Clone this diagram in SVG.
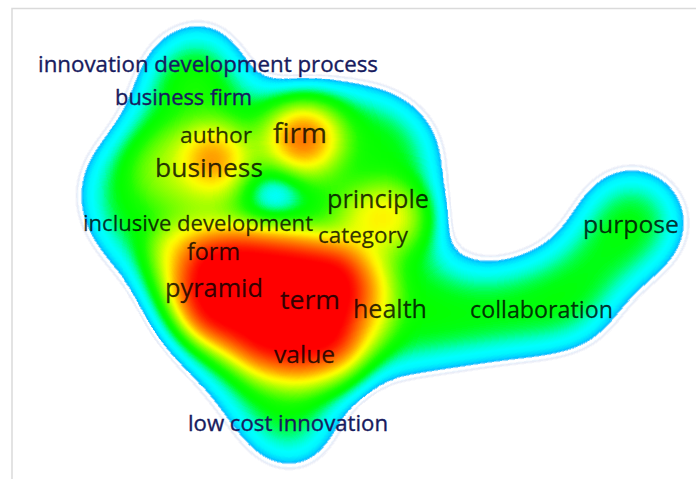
<svg xmlns="http://www.w3.org/2000/svg" width="696" height="479" viewBox="0 0 696 479">
<style>
.lb{mix-blend-mode:lighten}
text{font-family:"Open Sans","Noto Sans","DejaVu Sans",sans-serif;stroke-width:.35}
.n{fill:#171b5e;stroke:#171b5e}
.k{fill:#000;fill-opacity:.8;stroke:#000;stroke-opacity:.5}
</style>
<defs>
<filter id="heat" filterUnits="userSpaceOnUse" x="-120" y="-120" width="936" height="719" color-interpolation-filters="sRGB">
<feGaussianBlur in="SourceGraphic" stdDeviation="28" result="b1"/>
<feColorMatrix in="b1" type="matrix" values="0 0 0 0 0  0 0 0 0 0  0 0 0 0 0  1 0 0 0 0" result="d1"/>
<feGaussianBlur in="SourceGraphic" stdDeviation="14" result="b2"/>
<feColorMatrix in="b2" type="matrix" values="0 0 0 0 0  0 0 0 0 0  0 0 0 0 0  0 1 0 0 0" result="d2"/>
<feColorMatrix in="b2" type="matrix" values="0 0 0 0 0  0 0 0 0 0  0 0 0 0 0  0 0 1 0 0" result="d3"/>
<feComposite in="d1" in2="d2" operator="arithmetic" k2="1" k3="1" result="s"/>
<feComposite in="s" in2="d3" operator="arithmetic" k2="1" k3="-1" result="d"/>
<feColorMatrix in="d" type="matrix" values="0 0 0 1 0  0 0 0 1 0  0 0 0 1 0  0 0 0 0 1" result="gray"/>
<feComponentTransfer in="gray" result="col">
<feFuncR type="table" tableValues="0.8 0.8 0.8 0.8 0.8 0.8 0.8 0.8 0.8 0 0 0 0 0 0 0 0 0 0.02 0.05 0.1 0.2 0.3 0.4 0.5 0.6 0.7 0.8 0.9 0.97 1 1 1 1 1 1 1 1 1 1 1 1 1 1 1 1 1 1 1 1 1"/>
<feFuncG type="table" tableValues="0.82 0.82 0.82 0.82 0.82 0.82 0.82 0.82 0.82 0.65 0.85 0.97 1 1 1 1 1 1 1 1 1 1 1 1 1 1 1 1 1 1 0.95 0.88 0.8 0.72 0.65 0.58 0.52 0.46 0.4 0.34 0.28 0.22 0.16 0.1 0.05 0 0 0 0 0 0"/>
<feFuncB type="table" tableValues="0.92 0.92 0.92 0.92 0.92 0.92 0.92 0.92 0.92 1 1 1 1 0.9 0.75 0.52 0.28 0.08 0 0 0 0 0 0 0 0 0 0 0 0 0 0 0 0 0 0 0 0 0 0 0 0 0 0 0 0 0 0 0 0 0"/>
</feComponentTransfer>
<feComponentTransfer in="d" result="mask">
<feFuncA type="table" tableValues="0 0 0 0 0 0 0 0 0 0 0 0 0 0 0 0 0.4 0 0 1 1 1 1 1 1 1 1 1 1 1 1 1 1 1 1 1 1 1 1 1 1 1 1 1 1 1 1 1 1 1 1 1 1 1 1 1 1 1 1 1 1 1 1 1 1 1 1 1 1 1 1 1 1 1 1 1 1 1 1 1 1 1 1 1 1 1 1 1 1 1 1 1 1 1 1 1 1 1 1 1 1"/>
</feComponentTransfer>
<feComposite in="col" in2="mask" operator="in"/>
</filter>
<radialGradient id="gAuthor"><stop offset="0" stop-color="rgb(0,112,0)"/><stop offset="0.25" stop-color="rgb(0,90,0)"/><stop offset="0.5" stop-color="rgb(0,58,0)"/><stop offset="0.75" stop-color="rgb(0,26,0)"/><stop offset="1" stop-color="rgb(0,0,0)"/></radialGradient>
<radialGradient id="gFirm"><stop offset="0" stop-color="rgb(0,130,0)"/><stop offset="0.25" stop-color="rgb(0,104,0)"/><stop offset="0.5" stop-color="rgb(0,62,0)"/><stop offset="0.75" stop-color="rgb(0,24,0)"/><stop offset="1" stop-color="rgb(0,0,0)"/></radialGradient>
<radialGradient id="gPrin"><stop offset="0" stop-color="rgb(0,74,0)"/><stop offset="0.5" stop-color="rgb(0,52,0)"/><stop offset="1" stop-color="rgb(0,0,0)"/></radialGradient>
<radialGradient id="gBus"><stop offset="0" stop-color="rgb(0,45,0)"/><stop offset="0.6" stop-color="rgb(0,35,0)"/><stop offset="1" stop-color="rgb(0,0,0)"/></radialGradient>
<radialGradient id="gTop"><stop offset="0" stop-color="rgb(0,14,0)"/><stop offset="1" stop-color="rgb(0,0,0)"/></radialGradient>
<radialGradient id="gHole"><stop offset="0" stop-color="rgb(0,0,68)"/><stop offset="0.5" stop-color="rgb(0,0,52)"/><stop offset="1" stop-color="rgb(0,0,0)"/></radialGradient>
</defs>
<rect width="696" height="479" fill="#fff"/>
<g id="frame" fill="none" stroke="#dadada" stroke-width="1.5">
<path d="M12,479 V8.5 H696"/>
</g>
<g id="density" filter="url(#heat)">
<rect x="-120" y="-120" width="936" height="719" fill="#000"/>
<path class="lb" fill="rgb(94,0,0)" d="M207,19 C228,19 238,32 244,50 C248,64 250,88 258,94 C266,98 280,85 300,83 C330,80 365,80 388,88 C408,95 428,108 438,128 C444,145 445,170 443,195 C441,215 436,235 438,250 C440,262 455,265 475,265 C500,266 520,258 545,248 C565,240 570,228 574,210 C578,188 598,164 633,164 C668,164 691,190 690,225 C689,257 667,276 641,284 C622,291 620,305 616,320 C610,343 585,352 545,356 C515,359 490,361 465,366 C430,373 395,374 372,382 C348,390 338,415 334,438 C330,460 315,473 290,472 C264,471 249,454 237,433 C225,410 210,392 196,378 C175,357 158,343 150,322 C143,303 136,290 124,275 C110,262 95,250 86,234 C76,214 74,190 82,165 C90,145 112,132 124,120 C131,110 132,95 134,80 C138,58 152,36 170,27 C182,21 195,19 207,19 Z"/>
<ellipse class="lb" cx="195" cy="85" rx="45" ry="35" fill="url(#gTop)"/>
<ellipse class="lb" cx="200" cy="168" rx="85" ry="60" fill="url(#gBus)"/>
<ellipse class="lb" cx="385" cy="218" rx="65" ry="45" fill="url(#gPrin)"/>
<circle class="lb" cx="212" cy="160" r="55" fill="url(#gAuthor)"/>
<circle class="lb" cx="303" cy="137" r="58" fill="url(#gFirm)"/>
<path class="lb" fill="rgb(0,61,0)" d="M155,230 L200,220 L250,224 L312,228 L348,238 L390,260 L398,295 L390,332 L370,362 L348,386 L300,394 L260,387 L232,368 L197,348 L170,320 L155,286 L150,255 Z"/>
<path class="lb" fill="rgb(0,148,0)" d="M190,246 L235,236 L295,244 L352,254 L368,290 L356,326 L346,357 L300,368 L256,360 L230,342 L193,328 L179,290 Z"/>
<ellipse class="lb" cx="272" cy="192" rx="40" ry="24" fill="url(#gHole)"/>
</g>
<g id="labels">
<text class="n" x="38" y="72" font-size="21.5" textLength="340" lengthAdjust="spacingAndGlyphs">innovation development process</text>
<text class="n" x="115" y="105" font-size="21" textLength="137" lengthAdjust="spacingAndGlyphs">business firm</text>
<text class="k" x="180" y="143" font-size="22" textLength="72" lengthAdjust="spacingAndGlyphs">author</text>
<text class="k" x="273" y="143" font-size="27" textLength="54" lengthAdjust="spacingAndGlyphs">firm</text>
<text class="k" x="155" y="177" font-size="26" textLength="108" lengthAdjust="spacingAndGlyphs">business</text>
<text class="k" x="327" y="208" font-size="25" textLength="102" lengthAdjust="spacingAndGlyphs">principle</text>
<text class="k" x="83" y="231" font-size="22" textLength="230" lengthAdjust="spacingAndGlyphs">inclusive development</text>
<text class="k" x="318" y="243" font-size="22.5" textLength="90" lengthAdjust="spacingAndGlyphs">category</text>
<text class="k" x="187" y="260" font-size="23" textLength="53" lengthAdjust="spacingAndGlyphs">form</text>
<text class="k" x="165" y="297" font-size="25" textLength="98" lengthAdjust="spacingAndGlyphs">pyramid</text>
<text class="k" x="280" y="309" font-size="26" textLength="60" lengthAdjust="spacingAndGlyphs">term</text>
<text class="k" x="353" y="318" font-size="25" textLength="74" lengthAdjust="spacingAndGlyphs">health</text>
<text class="k" x="470" y="318" font-size="23" textLength="143" lengthAdjust="spacingAndGlyphs">collaboration</text>
<text class="k" x="583" y="233" font-size="24.5" textLength="96" lengthAdjust="spacingAndGlyphs">purpose</text>
<text class="k" x="274" y="363" font-size="24.5" textLength="61" lengthAdjust="spacingAndGlyphs">value</text>
<text class="n" x="188" y="431" font-size="22" textLength="200" lengthAdjust="spacingAndGlyphs">low cost innovation</text>
</g>
</svg>
